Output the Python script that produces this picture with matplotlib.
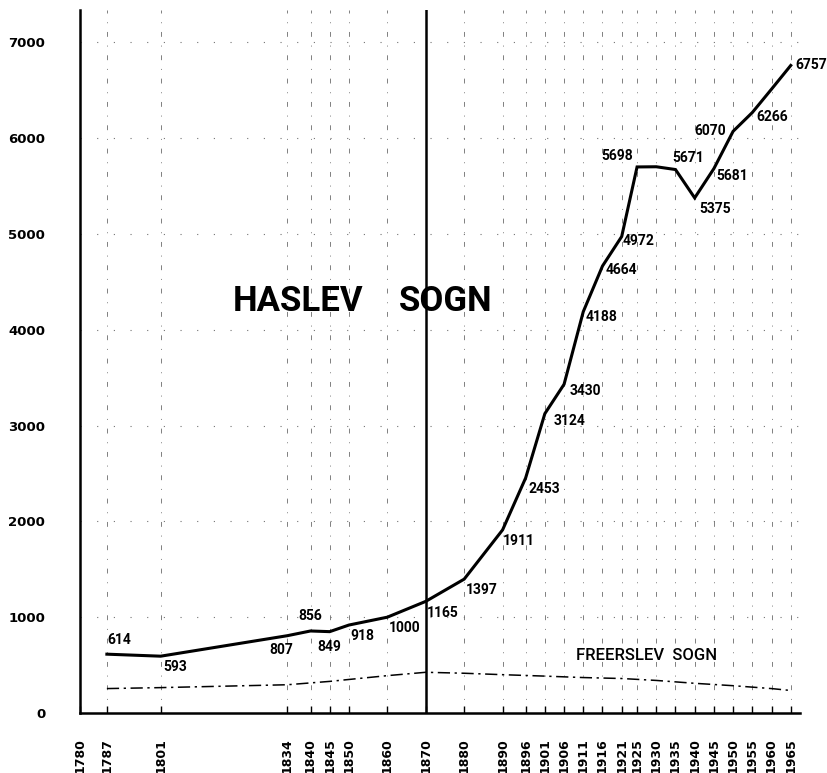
import matplotlib
matplotlib.use("Agg")
import matplotlib.pyplot as plt

# Haslev sogn, population by census year
haslev_years = [1787, 1801, 1834, 1840, 1845, 1850, 1860, 1870, 1880, 1890, 1896,
                1901, 1906, 1911, 1916, 1921, 1925, 1930, 1935, 1940, 1945, 1950,
                1955, 1960, 1965]
haslev_pop = [614, 593, 807, 856, 849, 918, 1000, 1165, 1397, 1911, 2453,
              3124, 3430, 4188, 4664, 4972, 5698, 5700, 5671, 5375, 5681, 6070,
              6266, 6510, 6757]
# which points carry a printed number (1930 and 1960 have none)
haslev_labelled = [True] * 17 + [False] + [True] * 5 + [False, True]

# Freerslev sogn (no numbers printed)
freerslev_years = [1787, 1801, 1834, 1845, 1850, 1860, 1870, 1880, 1890, 1901,
                   1911, 1921, 1930, 1940, 1950, 1960, 1965]
freerslev_pop = [255, 265, 295, 330, 350, 390, 425, 415, 400, 385,
                 370, 360, 340, 310, 285, 255, 235]

tick_years = [1780, 1787, 1801, 1834, 1840, 1845, 1850, 1860, 1870, 1880, 1890,
              1896, 1901, 1906, 1911, 1916, 1921, 1925, 1930, 1935, 1940, 1945,
              1950, 1955, 1960, 1965]
y_ticks = [0, 1000, 2000, 3000, 4000, 5000, 6000, 7000]

# label placement: (dx, dy) in points, ha, va
label_pos = {
    1787: (0, 5, "left", "bottom"),
    1801: (2, -3, "left", "top"),
    1834: (4, -5, "right", "top"),
    1840: (0, 6, "center", "bottom"),
    1845: (0, -6, "center", "top"),
    1850: (1, -3, "left", "top"),
    1860: (1, -3, "left", "top"),
    1870: (1, -3, "left", "top"),
    1880: (1, -3, "left", "top"),
    1890: (0, -3, "left", "top"),
    1896: (2, -3, "left", "top"),
    1901: (6, 0, "left", "top"),
    1906: (4, 0, "left", "top"),
    1911: (2, 1, "left", "top"),
    1916: (2, 2, "left", "top"),
    1921: (1, 2, "left", "top"),
    1925: (-3, 3, "right", "bottom"),
    1935: (-2, 3, "left", "bottom"),
    1940: (3, -3, "left", "top"),
    1945: (2, 0, "left", "top"),
    1950: (-5, 0, "right", "center"),
    1955: (3, 2, "left", "top"),
    1965: (3, 0, "left", "center"),
}

label_font = ["Roboto", "DejaVu Sans"]

fig = plt.figure(figsize=(8.28, 7.73), dpi=100)
ax = fig.add_axes([0.0966, 0.0776, 0.87, 0.91])

ax.set_xlim(1780, 1967.5)
ax.set_ylim(0, 7340)

# faint broken grid as in the printed original
for yr in tick_years[1:]:
    if yr == 1870:
        continue
    ax.axvline(yr, color="0.5", lw=0.7, dashes=(5, 9, 1, 9), zorder=1)
for yv in y_ticks[1:]:
    ax.axhline(yv, color="0.45", lw=0.8, dashes=(1, 14), zorder=1)

ax.axvline(1870, color="black", lw=1.8, zorder=2)

ax.plot(haslev_years, haslev_pop, color="black", lw=2.2, solid_joinstyle="miter", zorder=3)
ax.plot(freerslev_years, freerslev_pop, color="black", lw=1.1,
        dashes=(8, 3, 1.5, 3), zorder=3)

for yr, val, lab in zip(haslev_years, haslev_pop, haslev_labelled):
    if not lab:
        continue
    dx, dy, ha, va = label_pos[yr]
    ax.annotate(str(val), (yr, val), xytext=(dx, dy), textcoords="offset points",
                ha=ha, va=va, fontsize=10, family=label_font, fontweight="bold", zorder=4)

ax.text(1819.8, 4190, "HASLEV", fontsize=25, family=label_font, fontweight="bold",
        ha="left", va="baseline")
ax.text(1863, 4190, "SOGN", fontsize=25, family=label_font, fontweight="bold",
        ha="left", va="baseline")
ax.text(1909, 553, "FREERSLEV  SOGN", fontsize=12, family=label_font,
        fontweight="medium", ha="left", va="baseline")

for side in ("top", "right"):
    ax.spines[side].set_visible(False)
ax.spines["left"].set_linewidth(1.8)
ax.spines["bottom"].set_linewidth(1.8)

ax.set_xticks(tick_years)
ax.set_xticklabels([str(t) for t in tick_years], rotation=90, fontsize=9,
                   fontweight="bold", va="top")
ax.set_yticks(y_ticks)
ax.set_yticklabels([str(v) for v in y_ticks], fontsize=9.5, fontweight="bold")
ax.tick_params(axis="x", direction="in", length=5, width=1, pad=18)
ax.tick_params(axis="y", length=0, pad=25)

fig.savefig("out.png", dpi=100)
